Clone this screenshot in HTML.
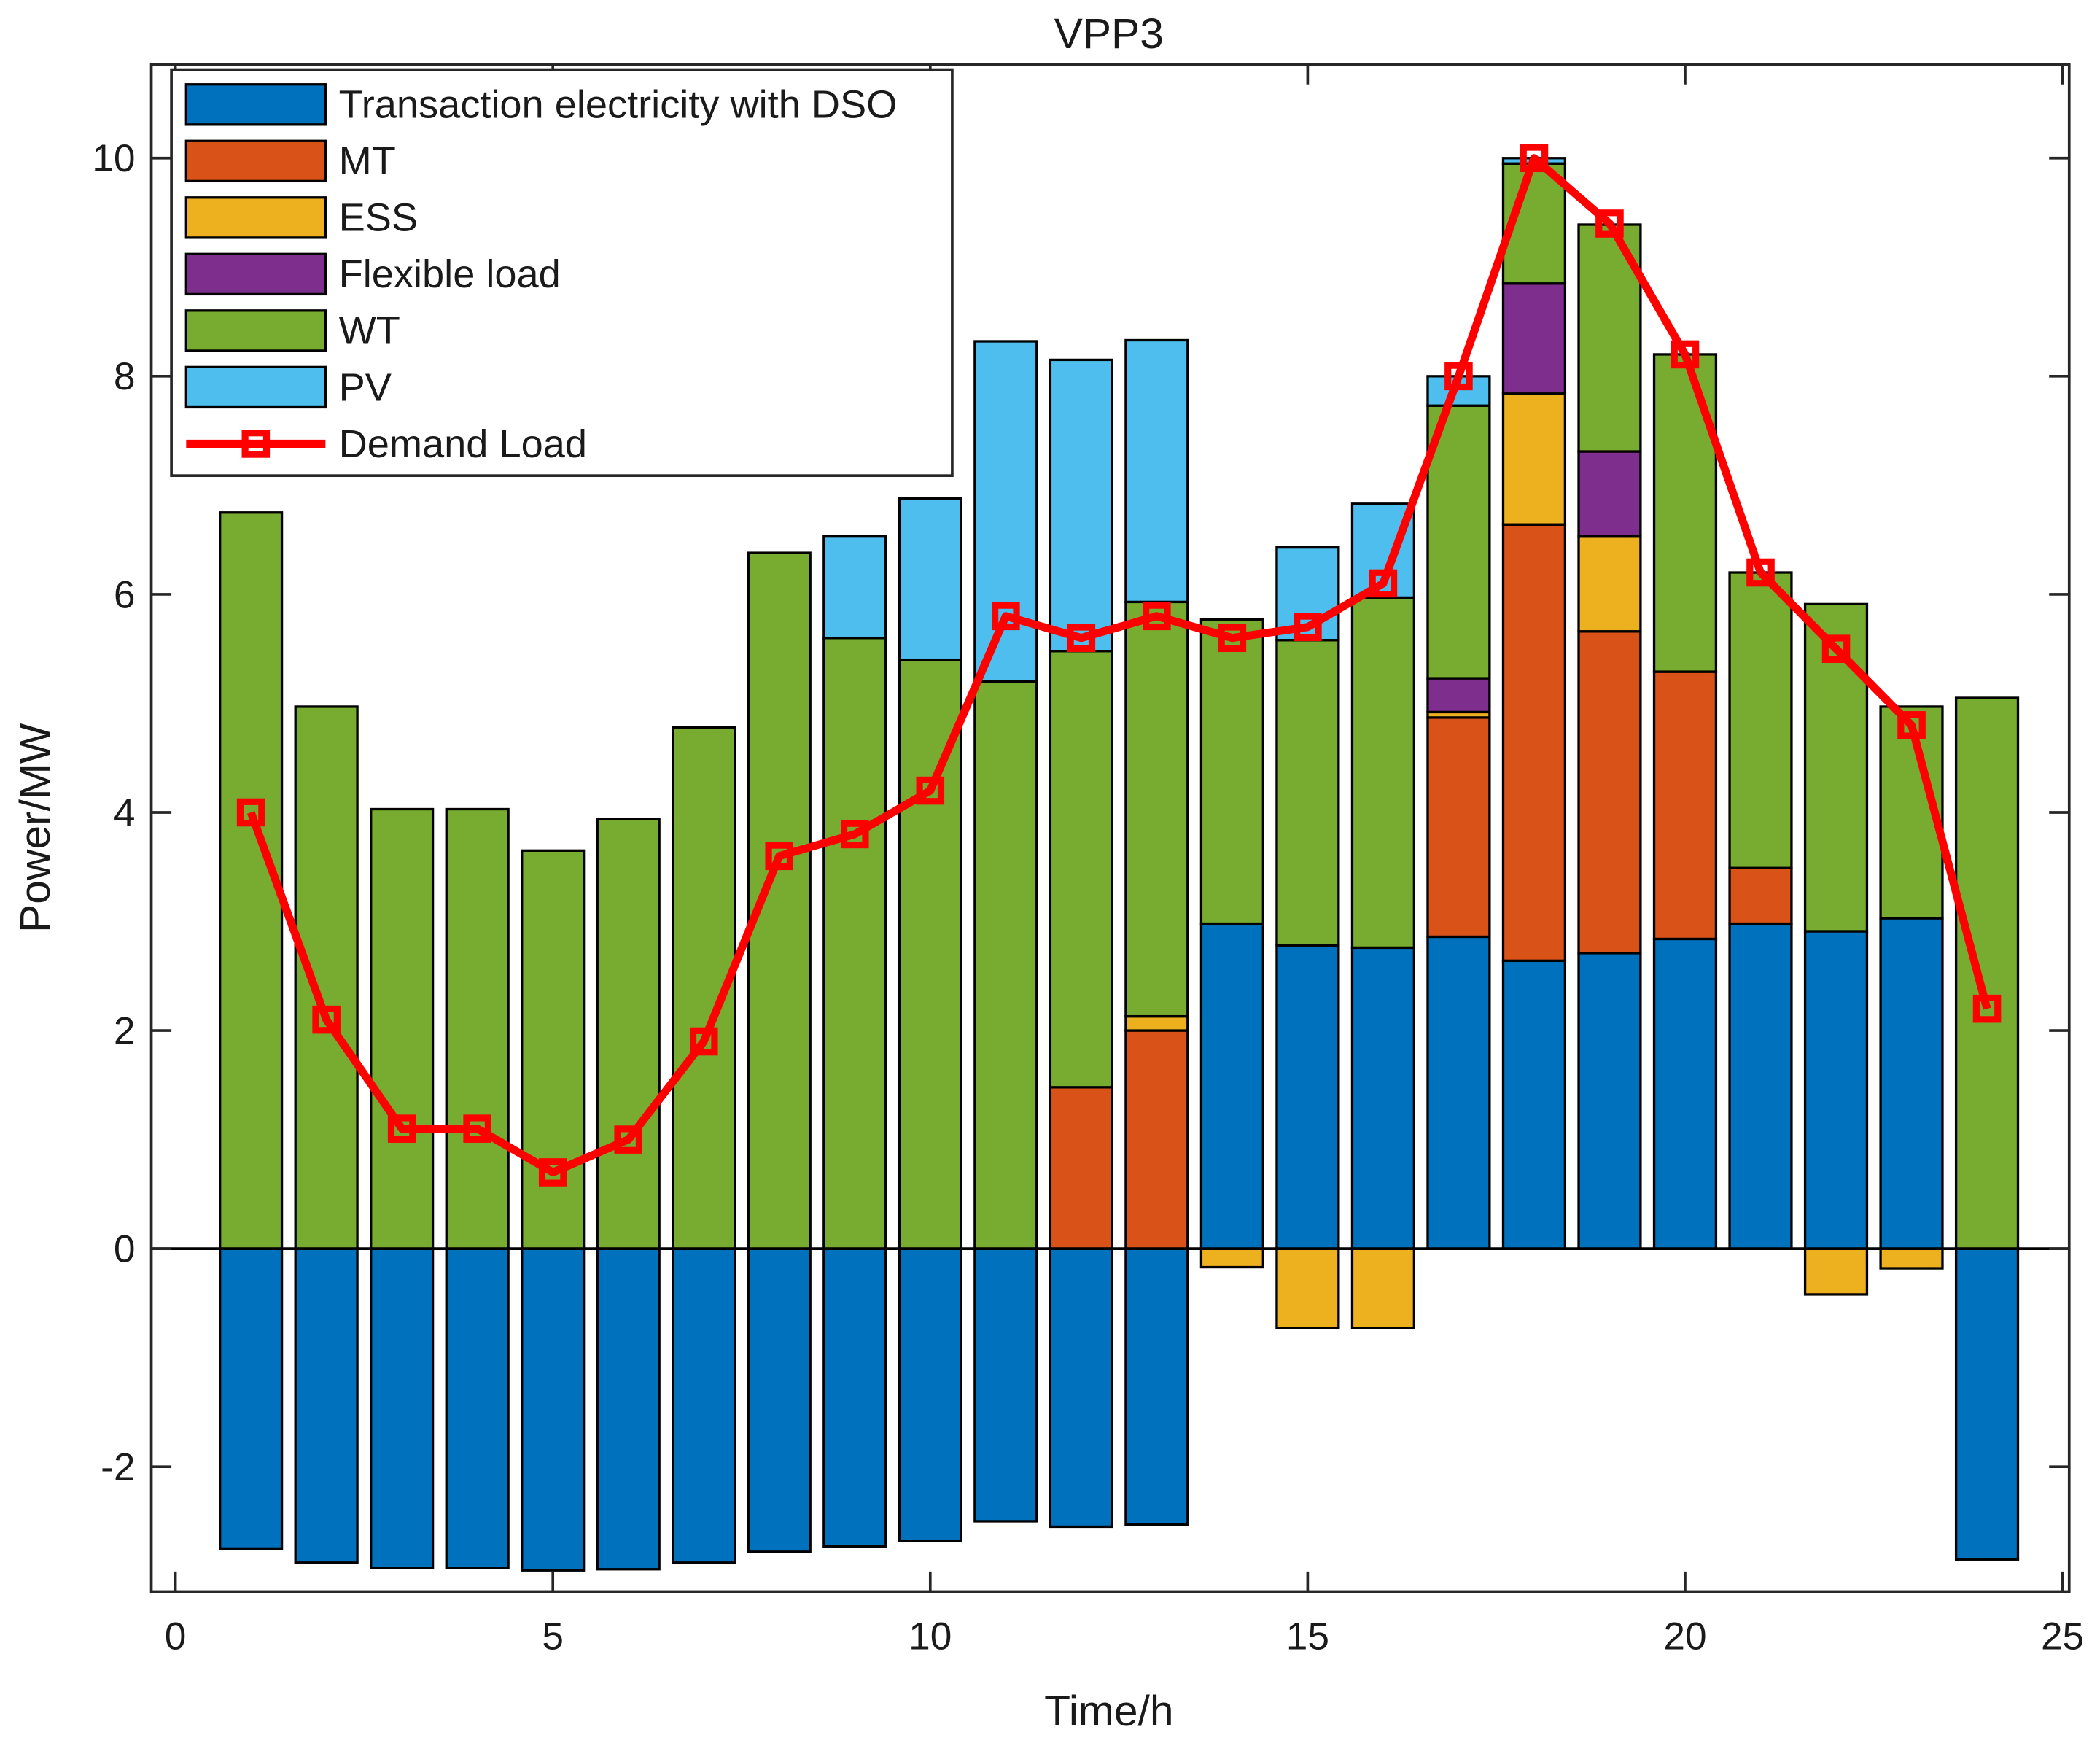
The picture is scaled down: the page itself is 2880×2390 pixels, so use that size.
<!DOCTYPE html>
<html><head><meta charset="utf-8"><style>html,body{margin:0;padding:0;background:#fff}svg{display:block}text{font-family:"Liberation Sans",Arial,sans-serif;fill:#1a1a1a}</style></head>
<body>
<svg id="chart" width="2880" height="2390" viewBox="0 0 1568 1301" preserveAspectRatio="none" xmlns="http://www.w3.org/2000/svg">
<rect width="1568" height="1301" fill="#fff"/>
<g id="bars"></g>
<g id="line"></g>
<g id="axes"></g>
<g id="legend"></g>
</svg>
<script>
const hours=[1,2,3,4,5,6,7,8,9,10,11,12,13,14,15,16,17,18,19,20,21,22,23,24];
const dso=[-2.75,-2.88,-2.93,-2.93,-2.95,-2.94,-2.88,-2.78,-2.73,-2.68,-2.5,-2.55,-2.53,2.98,2.78,2.76,2.86,2.64,2.71,2.84,2.98,2.91,3.03,-2.85];
const mt=[0,0,0,0,0,0,0,0,0,0,0,1.48,2.0,0,0,0,2.01,4.0,2.95,2.45,0.51,0,0,0];
const ess=[0,0,0,0,0,0,0,0,0,0,0,0,0.13,-0.17,-0.73,-0.73,0.05,1.2,0.87,0,0,-0.42,-0.18,0];
const flex=[0,0,0,0,0,0,0,0,0,0,0,0,0,0,0,0,0.31,1.01,0.78,0,0,0,0,0];
const wt=[6.75,4.97,4.03,4.03,3.65,3.94,4.78,6.38,5.6,5.4,5.2,4.0,3.8,2.79,2.8,3.21,2.5,1.1,2.08,2.91,2.71,3.0,1.94,5.05];
const pv=[0,0,0,0,0,0,0,0,0.93,1.48,3.12,2.67,2.4,0,0.85,0.86,0.27,0.05,0,0,0,0,0,0];
const load=[4,2.1,1.1,1.1,0.7,1.0,1.9,3.6,3.8,4.2,5.8,5.6,5.8,5.6,5.7,6.1,8.0,10,9.4,8.2,6.2,5.5,4.8,2.2];
const xTicks=[0,5,10,15,20,25];
const yTicks=[-2,0,2,4,6,8,10];
const seriesNames=["Transaction electricity with DSO","MT","ESS","Flexible load","WT","PV"];
const seriesColors=["#0072bd","#d95319","#edb120","#7e2f8e","#77ac30","#4dbeee"];
const NS="http://www.w3.org/2000/svg";
const L=113,R=1545,T=48,B=1188;
const X=v=>131+v*(1540-131)/25;
const Y=v=>932-v*(932-118)/10;
function mk(tag,attrs,parent){const e=document.createElementNS(NS,tag);for(const k in attrs)e.setAttribute(k,attrs[k]);parent.appendChild(e);return e;}
const series=[dso,mt,ess,flex,wt,pv];
const gb=document.getElementById('bars');
const bw=0.82;
hours.forEach((h,i)=>{let pos=0,neg=0;
 series.forEach((s,k)=>{const v=s[i];if(!v)return;let y0,y1;
  if(v>0){y0=pos;y1=pos+v;pos=y1;}else{y0=neg;y1=neg+v;neg=y1;}
  const r=mk('rect',{x:X(h-bw/2),width:X(bw)-X(0),y:Y(Math.max(y0,y1)),height:Math.abs(Y(y1)-Y(y0)),fill:seriesColors[k],stroke:'#000','stroke-width':1.8},gb);
  
  
 });});
const ga=document.getElementById('axes');
mk('line',{x1:L,x2:R,y1:Y(0),y2:Y(0),stroke:'#000','stroke-width':2},ga);
mk('rect',{x:L,y:T,width:R-L,height:B-T,fill:'none',stroke:'#262626','stroke-width':2},ga);
xTicks.forEach(t=>{mk('line',{x1:X(t),x2:X(t),y1:B,y2:B-15,stroke:'#262626','stroke-width':2},ga);mk('line',{x1:X(t),x2:X(t),y1:T,y2:T+15,stroke:'#262626','stroke-width':2},ga);
 const tx=mk('text',{x:X(t),y:B+43,'font-size':29,'text-anchor':'middle'},ga);tx.textContent=t;
 
 });
yTicks.forEach(t=>{mk('line',{x1:L,x2:L+15,y1:Y(t),y2:Y(t),stroke:'#262626','stroke-width':2},ga);mk('line',{x1:R,x2:R-15,y1:Y(t),y2:Y(t),stroke:'#262626','stroke-width':2},ga);
 const tx=mk('text',{x:L-12,y:Y(t)+10,'font-size':29,'text-anchor':'end'},ga);tx.textContent=t;
 
 });
let t1=mk('text',{x:828,y:36,'font-size':32,'text-anchor':'middle'},ga);t1.textContent='VPP3';


let t2=mk('text',{x:828,y:1288,'font-size':32,'text-anchor':'middle'},ga);t2.textContent='Time/h';


let t3=mk('text',{x:37,y:618,'font-size':32,'text-anchor':'middle',transform:'rotate(-90 37 618)'},ga);t3.textContent='Power/MW';


const gl=document.getElementById('line');
mk('polyline',{points:hours.map((h,i)=>X(h)+','+Y(load[i])).join(' '),fill:'none',stroke:'#ff0000','stroke-width':6,'stroke-linejoin':'round'},gl);
hours.forEach((h,i)=>{const m=mk('rect',{x:X(h)-8,y:Y(load[i])-8,width:16,height:16,fill:'none',stroke:'#ff0000','stroke-width':5},gl);
 
 });
const lg=document.getElementById('legend');
mk('rect',{x:128,y:52,width:583,height:303,fill:'#fff',stroke:'#262626','stroke-width':2},lg);
const names=seriesNames.concat(['Demand Load']);
names.forEach((n,k)=>{const y=78+k*42.2;
 if(k<6){mk('rect',{x:139,y:y-15,width:104,height:30,fill:seriesColors[k],stroke:'#000','stroke-width':1.8},lg);}
 else{mk('line',{x1:139,x2:243,y1:y,y2:y,stroke:'#ff0000','stroke-width':6},lg);mk('rect',{x:183,y:y-8,width:16,height:16,fill:'none',stroke:'#ff0000','stroke-width':5},lg);}
 const tx=mk('text',{x:253,y:y+10,'font-size':29.5},lg);tx.textContent=n;
 
 });
</script>
</body></html>
